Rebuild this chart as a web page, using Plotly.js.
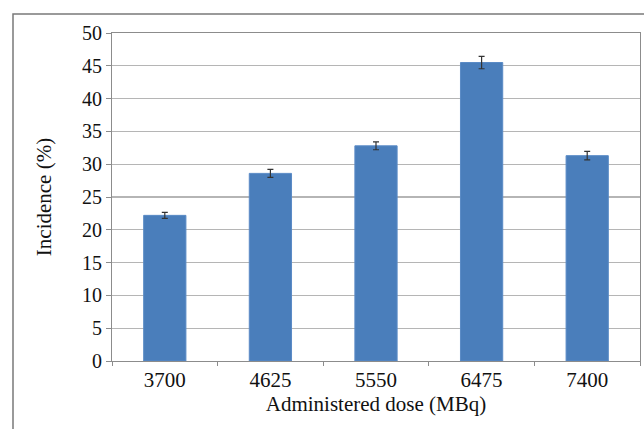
<!DOCTYPE html>
<html>
<head>
<meta charset="utf-8">
<script src="https://cdn.plot.ly/plotly-3.0.1.min.js"></script>
<style>html,body{margin:0;padding:0;background:#fff;}</style>
</head>
<body>
<div id="chart" style="width:644px;height:429px"></div>
<script>
var doses = ["3700", "4625", "5550", "6475", "7400"];
var incidence = [22.2, 28.6, 32.8, 45.5, 31.3];
var errors = [0.45, 0.6, 0.6, 0.95, 0.65];
var yTicks = [0, 5, 10, 15, 20, 25, 30, 35, 40, 45, 50];

var trace = {
  type: "bar",
  x: doses,
  y: incidence,
  marker: {color: "#4a7ebb", line: {color: "#5a8bc6", width: 1}},
  error_y: {type: "data", array: errors, visible: true, color: "#333", thickness: 1.2, width: 3}
};

var layout = {
  width: 644, height: 429,
  margin: {l: 112, r: 4, t: 33, b: 68},
  paper_bgcolor: "#fff", plot_bgcolor: "#fff",
  bargap: 0.6,
  showlegend: false,
  font: {family: "Liberation Serif", size: 20, color: "#111"},
  xaxis: {
    type: "category",
    tickfont: {size: 21},
    showline: true, linecolor: "#8c8c8c", linewidth: 1, mirror: true,
    ticks: "outside", tickson: "boundaries", ticklen: 4, tickcolor: "#8c8c8c",
    showgrid: false,
    title: {text: "Administered dose (MBq)", font: {size: 21}, standoff: 4}
  },
  yaxis: {
    range: [0, 50],
    tickvals: yTicks,
    tickfont: {size: 20},
    showline: true, linecolor: "#8c8c8c", linewidth: 1, mirror: true,
    ticks: "outside", ticklen: 5, tickcolor: "#8c8c8c",
    showgrid: true, gridcolor: "#b5b5b5", gridwidth: 1.3,
    zeroline: false,
    title: {text: "Incidence (%)", font: {size: 21}, standoff: 24}
  },
  shapes: [{
    type: "rect", xref: "paper", yref: "paper",
    x0: -0.1875, x1: 1.2, y0: -0.4, y1: 1.058,
    line: {color: "#7a7a7a", width: 1.5}, fillcolor: "rgba(0,0,0,0)", layer: "below"
  }]
};

Plotly.newPlot("chart", [trace], layout, {staticPlot: true});
</script>
</body>
</html>
